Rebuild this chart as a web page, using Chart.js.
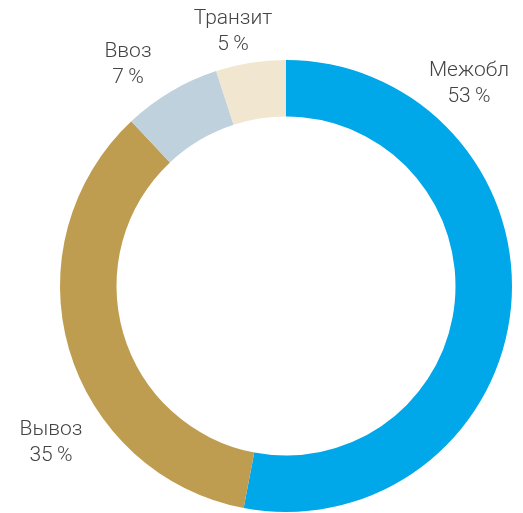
<!DOCTYPE html>
<html>
<head>
<meta charset="utf-8">
<script src="https://cdn.jsdelivr.net/npm/chart.js@4"></script>
<style>
  html, body { margin: 0; padding: 0; background: #fff; }
  #wrap { width: 523px; height: 513px; }
</style>
</head>
<body>
<div id="wrap"><canvas id="donutChart"></canvas></div>
<script>
const labels = ["Межобл", "Вывоз", "Ввоз", "Транзит"];
const shares = [53, 35, 7, 5];
const colors = ["#00A7E9", "#BF9D50", "#BFD1DC", "#F1E6CF"];

// where each caption sits (centre of the text block)
const captionPos = [
  [469, 84],
  [51, 443],
  [128, 65],
  [233, 32],
];

const captionPlugin = {
  id: "captions",
  afterDraw(chart) {
    const ctx = chart.ctx;
    ctx.save();
    ctx.fillStyle = "#444444";
    ctx.font = "300 21px Roboto";
    ctx.textAlign = "center";
    ctx.textBaseline = "middle";
    labels.forEach((name, i) => {
      const [x, y] = captionPos[i];
      ctx.fillText(name, x, y - 13);
      ctx.fillText(shares[i] + "\u2009%", x, y + 13);
    });
    ctx.restore();
  },
};

const donutCtx = document.getElementById("donutChart").getContext("2d");

const donutChart = new Chart(donutCtx, {
  type: "doughnut",
  data: {
    labels: labels,
    datasets: [
      {
        data: shares,
        backgroundColor: colors,
        borderWidth: 0,
      },
    ],
  },
  options: {
    responsive: true,
    maintainAspectRatio: false,
    animation: false,
    cutout: "75%",
    layout: {
      padding: { left: 60, right: 11, top: 60, bottom: 1 },
    },
    plugins: {
      legend: { display: false },
      tooltip: { enabled: false },
    },
  },
  plugins: [captionPlugin],
});
</script>
</body>
</html>
